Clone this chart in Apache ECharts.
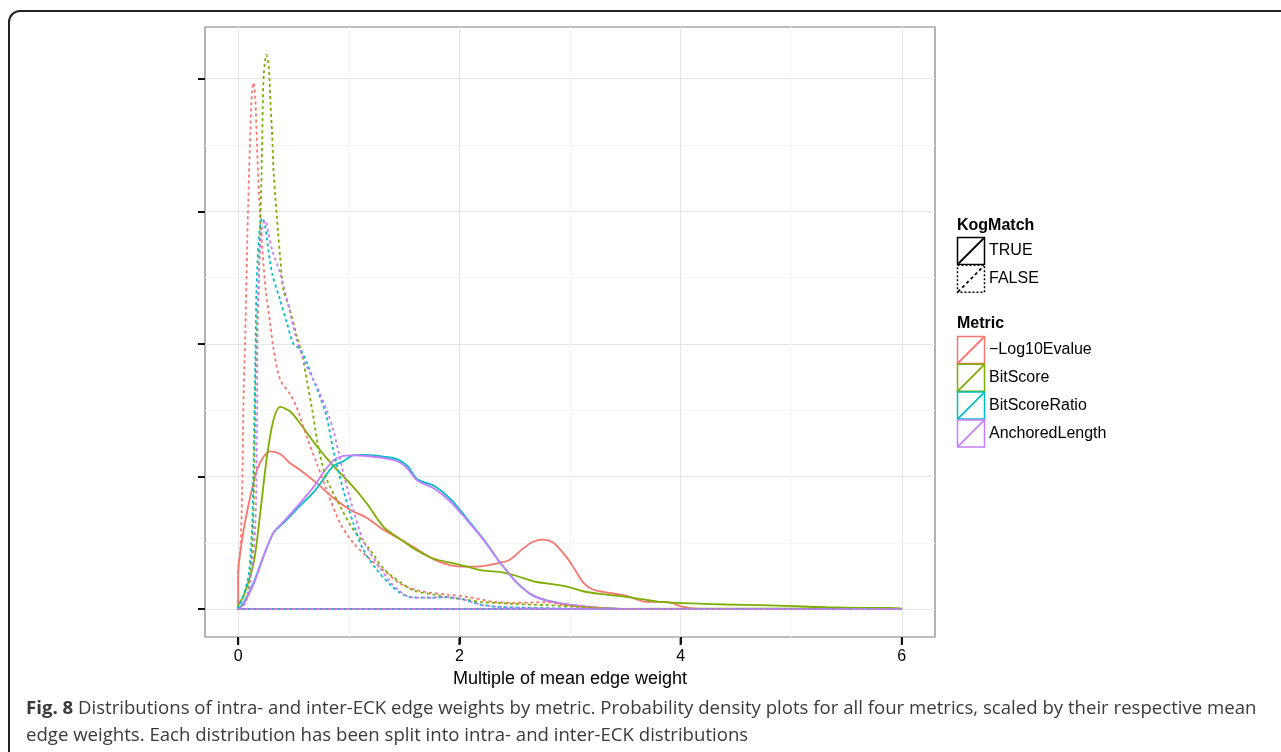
<!DOCTYPE html>
<html>
<head>
<meta charset="utf-8">
<script src="https://cdn.jsdelivr.net/npm/echarts@6/dist/echarts.min.js"></script>
<style>
html, body { margin: 0; padding: 0; background: #fff; }
#chart { width: 1281px; height: 752px; }
</style>
</head>
<body>
<div id="chart"></div>
<script>
// density curves, x = multiple of mean edge weight, y = density (tick units)
var metricNames = ['\u2212Log10Evalue', 'BitScore', 'BitScoreRatio', 'AnchoredLength'];
var metricColors = ['#F8766D', '#7CAE00', '#00BFC4', '#C77CFF'];
var kogNames = ['TRUE', 'FALSE'];
var xTicks = [0, 2, 4, 6];
var xMinorTicks = [1, 3, 5];
var yTicks = [0, 1, 2, 3, 4];
var yMinorTicks = [0.5, 1.5, 2.5, 3.5];

var evalueTrue = [[0,0.25],[0.05,0.6],[0.11,0.85],[0.17,1.05],[0.23,1.15],[0.29,1.19],[0.38,1.17],[0.47,1.10],[0.56,1.05],
    [0.71,0.95],[0.86,0.84],[1.01,0.75],[1.16,0.69],[1.31,0.60],[1.47,0.525],[1.62,0.45],[1.77,0.375],[1.92,0.33],[2.07,0.32],
    [2.22,0.325],[2.37,0.35],[2.46,0.375],[2.58,0.46],[2.67,0.51],[2.75,0.525],[2.85,0.50],[2.97,0.39],[3.05,0.29],[3.12,0.2],
    [3.2,0.15],[3.30,0.13],[3.51,0.10],[3.69,0.055],[3.87,0.055],[4.03,0.015],[4.15,0.003],[4.5,0],[6,0]];
var evalueFalse = [[0,0.31],[0.02,0.45],[0.036,0.9],[0.05,1.66],[0.063,2.03],[0.08,2.7],[0.09,3.04],[0.11,3.6],[0.125,3.9],
    [0.14,3.97],[0.155,3.85],[0.17,3.5],[0.19,3.1],[0.22,2.7],[0.25,2.4],[0.29,2.15],[0.32,1.96],[0.38,1.73],[0.47,1.62],
    [0.53,1.52],[0.62,1.3],[0.71,1.1],[0.8,0.9],[0.92,0.65],[1.04,0.5],[1.2,0.37],[1.32,0.29],[1.47,0.19],[1.65,0.136],
    [1.89,0.11],[2.07,0.093],[2.31,0.055],[2.49,0.048],[2.65,0.05],[2.79,0.053],[2.91,0.035],[3.09,0.018],[3.3,0.008],[3.6,0],[6,0]];
var bitTrue = [[0,0.02],[0.05,0.1],[0.14,0.35],[0.2,0.73],[0.26,1.15],[0.32,1.43],[0.38,1.525],[0.47,1.49],[0.56,1.4],
    [0.71,1.23],[0.86,1.08],[1.01,0.95],[1.16,0.8],[1.31,0.625],[1.47,0.525],[1.62,0.44],[1.77,0.38],[1.92,0.35],[2.07,0.32],
    [2.22,0.29],[2.37,0.28],[2.52,0.25],[2.67,0.21],[2.82,0.19],[2.97,0.17],[3.12,0.135],[3.27,0.115],[3.51,0.093],[3.81,0.055],
    [4.12,0.043],[4.42,0.035],[4.72,0.03],[5.02,0.023],[5.32,0.015],[5.62,0.01],[6,0.005]];
var bitFalse = [[0,0],[0.066,0.05],[0.11,0.27],[0.135,0.65],[0.147,1.15],[0.156,1.66],[0.168,2.1],[0.186,2.45],[0.195,2.79],
    [0.208,3.16],[0.217,3.54],[0.222,3.79],[0.232,4.04],[0.256,4.18],[0.277,4.09],[0.29,3.85],[0.307,3.58],[0.32,3.3],
    [0.337,3.1],[0.36,2.85],[0.38,2.65],[0.41,2.4],[0.46,2.28],[0.53,2.06],[0.58,1.91],[0.62,1.73],[0.67,1.5],[0.73,1.2],
    [0.8,0.98],[0.92,0.78],[1.04,0.6],[1.19,0.45],[1.32,0.3],[1.47,0.2],[1.59,0.14],[1.77,0.11],[1.89,0.09],[2.07,0.07],
    [2.19,0.055],[2.49,0.04],[2.79,0.03],[3.03,0.02],[3.2,0.01],[3.5,0.002],[3.8,0],[6,0]];
var ratioTrue = [[0,0],[0.05,0.05],[0.14,0.2],[0.23,0.4],[0.32,0.575],[0.41,0.65],[0.56,0.78],[0.68,0.88],[0.77,0.98],
    [0.86,1.08],[0.95,1.115],[1.04,1.16],[1.16,1.163],[1.31,1.15],[1.44,1.13],[1.53,1.08],[1.62,0.98],[1.77,0.93],[1.92,0.83],
    [2.07,0.68],[2.22,0.525],[2.37,0.35],[2.52,0.2],[2.67,0.1],[2.82,0.06],[2.97,0.035],[3.27,0.01],[3.6,0],[6,0]];
var ratioFalse = [[0,0.02],[0.036,0.07],[0.096,0.27],[0.127,0.65],[0.14,1.15],[0.156,1.91],[0.165,2.41],[0.186,2.79],
    [0.2,2.9],[0.217,2.95],[0.24,2.9],[0.26,2.79],[0.307,2.53],[0.38,2.33],[0.44,2.16],[0.5,2.0],[0.56,1.96],[0.62,1.86],
    [0.68,1.73],[0.74,1.6],[0.8,1.45],[0.86,1.2],[0.95,0.9],[1.04,0.65],[1.13,0.45],[1.25,0.3],[1.38,0.18],[1.47,0.12],
    [1.56,0.09],[1.74,0.086],[1.89,0.09],[2.04,0.073],[2.19,0.035],[2.34,0.018],[2.64,0.01],[2.94,0.005],[3.3,0],[6,0]];
var anchTrue = [[0,0],[0.05,0.04],[0.14,0.19],[0.23,0.4],[0.32,0.58],[0.41,0.66],[0.56,0.8],[0.68,0.92],[0.77,1.03],
    [0.86,1.12],[0.95,1.155],[1.04,1.16],[1.16,1.155],[1.31,1.14],[1.44,1.115],[1.53,1.06],[1.62,0.97],[1.77,0.91],[1.92,0.81],
    [2.07,0.67],[2.22,0.52],[2.37,0.35],[2.52,0.2],[2.67,0.1],[2.82,0.06],[2.97,0.035],[3.27,0.01],[3.6,0],[6,0]];
var anchFalse = [[0,0],[0.066,0.05],[0.117,0.25],[0.156,0.65],[0.17,1.4],[0.177,2.16],[0.195,2.66],[0.22,2.88],[0.247,2.93],
    [0.27,2.85],[0.307,2.71],[0.38,2.53],[0.457,2.28],[0.53,2.03],[0.62,1.83],[0.71,1.68],[0.8,1.5],[0.86,1.35],[0.95,1.03],
    [1.04,0.75],[1.13,0.52],[1.25,0.35],[1.38,0.2],[1.47,0.13],[1.56,0.09],[1.74,0.086],[1.89,0.092],[2.04,0.072],[2.19,0.035],
    [2.34,0.018],[2.64,0.01],[2.94,0.005],[3.3,0],[6,0]];

var curves = [[evalueTrue, evalueFalse], [bitTrue, bitFalse], [ratioTrue, ratioFalse], [anchTrue, anchFalse]];

// geom_density outline: up from baseline, along the curve, down and back along baseline
function outline(pts) {
    var first = pts[0], last = pts[pts.length - 1];
    var out = [];
    if (first[1] > 0) out.push([first[0], 0]);
    out = out.concat(pts);
    if (last[1] > 0) out.push([last[0], 0]);
    out.push([first[0], 0]);
    return out;
}

var series = [];
for (var k = 0; k < kogNames.length; k++) {
    for (var m = 0; m < metricNames.length; m++) {
        series.push({
            name: metricNames[m] + ' ' + kogNames[k],
            type: 'line',
            xAxisIndex: 0,
            yAxisIndex: 0,
            smooth: 0.3,
            showSymbol: false,
            silent: true,
            animation: false,
            data: outline(curves[m][k]),
            lineStyle: {
                color: metricColors[m],
                width: 1.8,
                type: k === 0 ? 'solid' : [3, 3]
            }
        });
    }
}

var fontAxis = '"Liberation Sans", Arial, sans-serif';

// legend drawn as graphic keys
var legendX = 957, keySize = 28;
var graphics = [];
function key(y, color, dashed) {
    graphics.push({
        type: 'rect', shape: { x: legendX + 0.5, y: y + 0.5, width: keySize - 1, height: keySize - 1 },
        style: { fill: '#fff', stroke: color, lineWidth: 1.5, lineDash: dashed ? [2, 2] : null }
    });
    graphics.push({
        type: 'line', shape: { x1: legendX + 1, y1: y + keySize - 1, x2: legendX + keySize - 1, y2: y + 1 },
        style: { stroke: color, lineWidth: 1.8, lineDash: dashed ? [3, 3] : null }
    });
}
function label(x, y, text, bold) {
    graphics.push({
        type: 'text', x: x, y: y,
        style: { text: text, fill: '#000', font: (bold ? 'bold ' : '') + '16px ' + fontAxis, verticalAlign: 'middle' }
    });
}
label(legendX, 226, 'KogMatch', true);
for (var i = 0; i < kogNames.length; i++) {
    var ky = 237 + i * 27.8;
    key(ky, '#000', i === 1);
    label(legendX + 32, ky + 14, kogNames[i], false);
}
label(legendX, 324, 'Metric', true);
for (var j = 0; j < metricNames.length; j++) {
    var my = 336 + j * 27.8;
    key(my, metricColors[j], false);
    label(legendX + 32, my + 14, metricNames[j], false);
}

// outer frame and caption
graphics.push({
    type: 'rect', shape: { x: 9, y: 11, width: 1320, height: 800, r: 11 },
    style: { fill: null, stroke: '#222', lineWidth: 2 }
});
graphics.push({
    type: 'text', x: 26, y: 709,
    style: {
        text: '{b|Fig. 8} Distributions of intra- and inter-ECK edge weights by metric. Probability density plots for all four metrics, scaled by their respective mean',
        font: '18.6px "Open Sans", sans-serif', fill: '#3a3a3a', verticalAlign: 'middle',
        rich: { b: { fontWeight: 'bold', fontSize: 18.6, fontFamily: '"Open Sans", sans-serif', fill: '#3a3a3a' } }
    }
});
graphics.push({
    type: 'text', x: 26, y: 736,
    style: {
        text: 'edge weights. Each distribution has been split into intra- and inter-ECK distributions',
        font: '18.6px "Open Sans", sans-serif', fill: '#3a3a3a', verticalAlign: 'middle'
    }
});

// panel spans -0.3..6.3 (ggplot 5% expansion); the second grid covers exactly 0..6 for labels
var panelLeft = 205, panelWidth = 730, xLo = -0.3, xHi = 6.3, yLo = -0.21, yHi = 4.39;
var pxPerUnit = panelWidth / (xHi - xLo);

var chart = echarts.init(document.getElementById('chart'), null, { renderer: 'canvas' });
var option = {
    backgroundColor: '#fff',
    animation: false,
    grid: [{
        left: panelLeft, top: 27, width: panelWidth, height: 610,
        show: true, backgroundColor: '#fff', borderColor: '#7f7f7f', borderWidth: 1.2
    }, {
        left: panelLeft + (0 - xLo) * pxPerUnit, top: 27, width: 6 * pxPerUnit, height: 610,
        show: false
    }],
    xAxis: [{
        gridIndex: 0, type: 'value', min: xLo, max: xHi, position: 'bottom',
        axisLine: { show: false, onZero: false },
        axisTick: { show: false, customValues: xTicks },
        axisLabel: { show: false },
        splitLine: { show: true, lineStyle: { color: '#e5e5e5', width: 1 } }
    }, {
        gridIndex: 0, type: 'value', min: xLo, max: xHi, position: 'top',
        axisLine: { show: false, onZero: false },
        axisTick: { show: false, customValues: xMinorTicks },
        axisLabel: { show: false },
        splitLine: { show: true, lineStyle: { color: '#f5f5f5', width: 1 } }
    }, {
        gridIndex: 1, type: 'value', min: 0, max: 6, interval: 2, position: 'bottom',
        name: 'Multiple of mean edge weight', nameLocation: 'middle', nameGap: 28,
        nameTextStyle: { fontFamily: fontAxis, fontSize: 18, color: '#000' },
        axisLine: { show: false, onZero: false },
        axisTick: { show: true, inside: false, length: 7, lineStyle: { color: '#111', width: 2 } },
        axisLabel: { show: true, margin: 12, fontFamily: fontAxis, fontSize: 16, color: '#000' },
        splitLine: { show: false }
    }],
    yAxis: [{
        gridIndex: 0, type: 'value', min: yLo, max: yHi, position: 'left',
        axisLine: { show: false, onZero: false },
        axisTick: { show: true, inside: false, length: 7, customValues: yTicks, lineStyle: { color: '#111', width: 2 } },
        axisLabel: { show: false },
        splitLine: { show: true, lineStyle: { color: '#e5e5e5', width: 1 } }
    }, {
        gridIndex: 0, type: 'value', min: yLo, max: yHi, position: 'right',
        axisLine: { show: false, onZero: false },
        axisTick: { show: false, customValues: yMinorTicks },
        axisLabel: { show: false },
        splitLine: { show: true, lineStyle: { color: '#f5f5f5', width: 1 } }
    }, {
        gridIndex: 1, type: 'value', min: 0, max: 1, show: false
    }],
    series: series,
    graphic: graphics
};
chart.setOption(option);

// x tick marks placed through the axis scale, below the panel border
var tickMarks = xTicks.map(function (v) {
    var p = chart.convertToPixel({ xAxisIndex: 0, yAxisIndex: 0 }, [v, yLo]);
    return {
        type: 'line', z: 10,
        shape: { x1: p[0], y1: p[1] + 1, x2: p[0], y2: p[1] + 8 },
        style: { stroke: '#111', lineWidth: 2 }
    };
});
chart.setOption({ graphic: graphics.concat(tickMarks) });
</script>
</body>
</html>
